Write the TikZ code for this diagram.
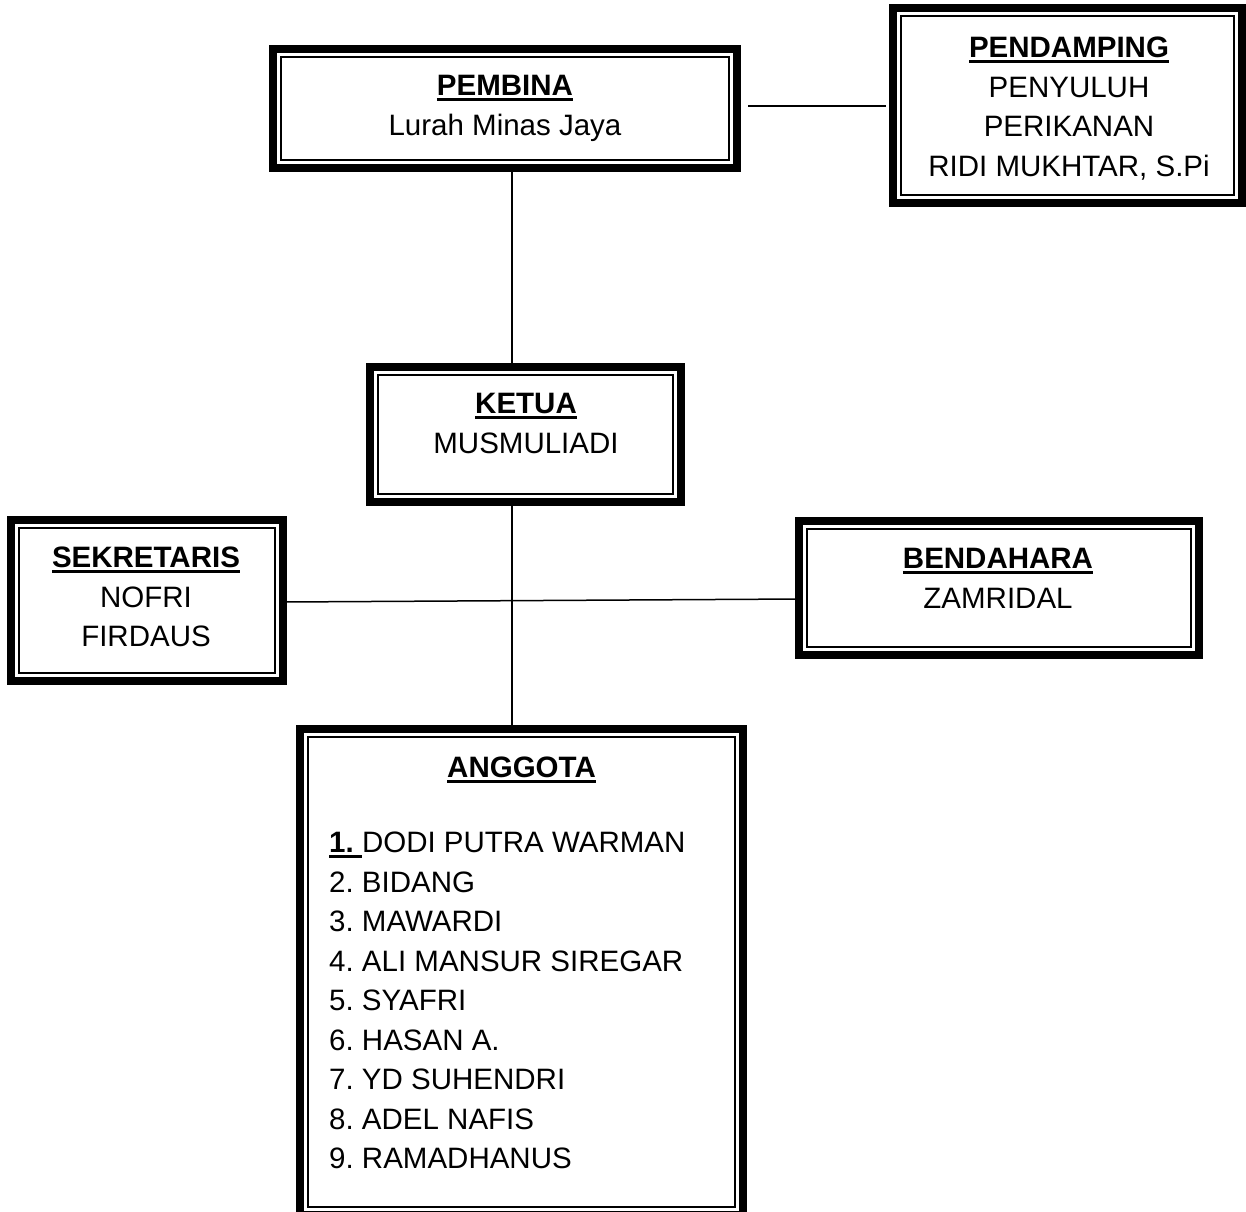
\documentclass[tikz,border=0pt]{standalone}
\usepackage{fontspec}
\setmainfont{Liberation Sans}
\frenchspacing
\newsavebox\ulbox
\newcommand\ulin[1]{\sbox\ulbox{#1}\rlap{\rule[-5.5pt]{\wd\ulbox}{3.3pt}}\usebox\ulbox}
\tikzset{
  box/.style={draw, rectangle, line width=8pt, inner sep=0pt, outer sep=0pt},
  txt/.style={anchor=north, inner sep=0pt, align=center, font=\fontsize{29.5}{39.5}\selectfont\frenchspacing},
  conn/.style={line width=1.5pt},
  innerline/.style={line width=2.5pt}
}
\begin{document}
\begin{tikzpicture}[x=1pt,y=-1pt]
\useasboundingbox (0,0) rectangle (1246,1211);
% boxes (path centre 4pt inside the outer edge)
\node[box, minimum width=464pt, minimum height=119pt] (pembina) at (505,108.5) {};
\node[box, minimum width=349pt, minimum height=195pt] (pendamping) at (1067.5,105.5) {};
\node[box, minimum width=311pt, minimum height=135pt] (ketua) at (525.5,434.5) {};
\node[box, minimum width=272pt, minimum height=161pt] (sekretaris) at (147,600.5) {};
\node[box, minimum width=400pt, minimum height=134pt] (bendahara) at (999,588) {};
\node[box, minimum width=443pt, minimum height=486pt] (anggota) at (521.5,972) {};
\foreach \n in {pembina,pendamping,ketua,sekretaris,bendahara,anggota}
  \draw[innerline] ([xshift=8pt,yshift=-8pt]\n.north west) rectangle ([xshift=-8pt,yshift=8pt]\n.south east);
% texts
\node[txt] (pembina-t) at (505,75) {\ulin{\textbf{PEMBINA}}\\Lurah Minas Jaya};
\node[txt] (pendamping-t) at (1069,36.7) {\ulin{\textbf{PENDAMPING}}\\PENYULUH\\PERIKANAN\\RIDI MUKHTAR, S.Pi};
\node[txt] (ketua-t) at (526,393) {\ulin{\textbf{KETUA}}\\MUSMULIADI};
\node[txt] (sekretaris-t) at (146,546.7) {\ulin{\textbf{SEKRETARIS}}\\NOFRI\\FIRDAUS};
\node[txt] (bendahara-t) at (998,548) {\ulin{\textbf{BENDAHARA}}\\ZAMRIDAL};
\node[txt] (anggota-t) at (521.5,756.7) {\ulin{\textbf{ANGGOTA}}};
\node[txt, anchor=north west, align=left] (anggota-list) at (329,832) {\ulin{\textbf{1.\ }}DODI PUTRA WARMAN\\
2. BIDANG\\3. MAWARDI\\4. ALI MANSUR SIREGAR\\5. SYAFRI\\6. HASAN A.\\7. YD SUHENDRI\\8. ADEL NAFIS\\9. RAMADHANUS};
% connectors
\coordinate (spine) at (512,0);
\coordinate (pbR) at (748,106);
\coordinate (pdL) at (886,106);
\draw[conn] (pbR) -- (pdL);
\draw[conn] (spine |- pembina.south) -- (spine |- ketua.north);
\draw[conn] (spine |- ketua.south) -- (spine |- anggota.north);
\draw[conn] (sekretaris.east |- 0,602) -- (bendahara.west |- 0,599);
\end{tikzpicture}
\end{document}
